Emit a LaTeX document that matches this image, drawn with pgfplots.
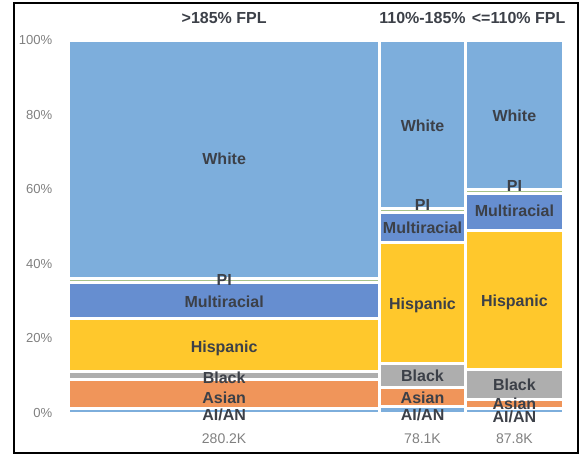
\documentclass[border=0pt]{standalone}
\usepackage{pgfplots}
\pgfplotsset{compat=1.18}
\usepackage{fontspec}
\setmainfont{Liberation Sans}
\definecolor{cWhite}{HTML}{7DAEDC}
\definecolor{cMulti}{HTML}{668ED0}
\definecolor{cHisp}{HTML}{FFC82C}
\definecolor{cBlack}{HTML}{AEAEAE}
\definecolor{cAsian}{HTML}{F0955A}
\definecolor{cAIAN}{HTML}{7DAEDC}
\definecolor{cPI}{HTML}{A8C28A}
\definecolor{lblgray}{HTML}{3C4048}
\definecolor{tickgray}{HTML}{808080}
\tikzset{
  lbl/.style={font=\bfseries\fontsize{12}{13}\selectfont, text=lblgray, anchor=base, yshift=-4.3pt, inner sep=0pt},
  btm/.style={font=\fontsize{10.5}{11}\selectfont, text=tickgray, anchor=base, yshift=-3.8pt, inner sep=0pt},
}
\newcommand{\seg}[5]{\addplot[fill=#5, draw=white, line width=2.25pt, line join=miter] coordinates {(#1,#3) (#2,#3) (#2,#4) (#1,#4)} -- cycle;}
\begin{document}
\begin{tikzpicture}
\path[use as bounding box] (0,0) rectangle (440.25pt,341.25pt);
\begin{axis}[
  at={(51.75pt,31.5pt)}, anchor=south west,
  scale only axis, width=370.5pt, height=279.4pt,
  xmin=0, xmax=446.1, ymin=0, ymax=100,
  clip=false,
  axis x line=none,
  axis y line*=left,
  y axis line style={draw=black!15, line width=0.4pt},
  xtick=\empty,
  ytick={0,20,40,60,80,100},
  major tick length=0pt,
  yticklabel={\pgfmathprintnumber{\tick}\%},
  yticklabel style={font=\fontsize{9.8}{10}\selectfont, text=tickgray, xshift=-9pt},
  /pgf/number format/assume math mode=true,
]
% >185% FPL (280.2K): x 0 -- 280.2
\seg{0}{280.2}{0}{1.2}{cAIAN}
\seg{0}{280.2}{1.2}{8.9}{cAsian}
\seg{0}{280.2}{8.9}{11.1}{cBlack}
\seg{0}{280.2}{11.1}{25.3}{cHisp}
\seg{0}{280.2}{25.3}{34.9}{cMulti}
\seg{0}{280.2}{34.9}{36.1}{cPI}
\seg{0}{280.2}{36.1}{100}{cWhite}
% 110%-185% (78.1K): x 280.2 -- 358.3
\seg{280.2}{358.3}{0}{1.7}{cAIAN}
\seg{280.2}{358.3}{1.7}{6.9}{cAsian}
\seg{280.2}{358.3}{6.9}{13.3}{cBlack}
\seg{280.2}{358.3}{13.3}{45.9}{cHisp}
\seg{280.2}{358.3}{45.9}{53.7}{cMulti}
\seg{280.2}{358.3}{53.7}{54.9}{cPI}
\seg{280.2}{358.3}{54.9}{100}{cWhite}
% <=110% FPL (87.8K): x 358.3 -- 446.1
\seg{358.3}{446.1}{0}{1.2}{cAIAN}
\seg{358.3}{446.1}{1.2}{3.6}{cAsian}
\seg{358.3}{446.1}{3.6}{11.7}{cBlack}
\seg{358.3}{446.1}{11.7}{49.1}{cHisp}
\seg{358.3}{446.1}{49.1}{58.8}{cMulti}
\seg{358.3}{446.1}{58.8}{60.0}{cPI}
\seg{358.3}{446.1}{60.0}{100}{cWhite}
% segment labels
\node[lbl] at (axis cs:140.1,68.2) {White};
\node[lbl] at (axis cs:140.1,35.7) {PI};
\node[lbl] at (axis cs:140.1,29.9) {Multiracial};
\node[lbl] at (axis cs:140.1,17.9) {Hispanic};
\node[lbl] at (axis cs:140.1,9.5) {Black};
\node[lbl] at (axis cs:140.1,4.2) {Asian};
\node[lbl] at (axis cs:140.1,-0.4) {AI/AN};
\node[lbl] at (axis cs:319.25,77.2) {White};
\node[lbl] at (axis cs:319.25,55.8) {PI};
\node[lbl] at (axis cs:319.25,49.8) {Multiracial};
\node[lbl] at (axis cs:319.25,29.3) {Hispanic};
\node[lbl] at (axis cs:319.25,10.0) {Black};
\node[lbl] at (axis cs:319.25,4.0) {Asian};
\node[lbl] at (axis cs:319.25,-0.5) {AI/AN};
\node[lbl] at (axis cs:402.2,79.8) {White};
\node[lbl] at (axis cs:402.2,61.0) {PI};
\node[lbl] at (axis cs:402.2,54.3) {Multiracial};
\node[lbl] at (axis cs:402.2,30.1) {Hispanic};
\node[lbl] at (axis cs:402.2,7.7) {Black};
\node[lbl] at (axis cs:402.2,2.5) {Asian};
\node[lbl] at (axis cs:402.2,-1.0) {AI/AN};
% column titles
\node[lbl] at (axis cs:140.1,106) {>185\% FPL};
\node[lbl] at (axis cs:319.25,106) {110\%-185\%};
\node[lbl] at (axis cs:406,106) {<=110\% FPL};
% column sizes
\node[btm] at (axis cs:140.1,-6.7) {280.2K};
\node[btm] at (axis cs:319.25,-6.7) {78.1K};
\node[btm] at (axis cs:402.2,-6.7) {87.8K};
\end{axis}
\draw[line width=1.1pt] (10.5pt,1.5pt) rectangle (433.5pt,339pt);
\end{tikzpicture}
\end{document}
